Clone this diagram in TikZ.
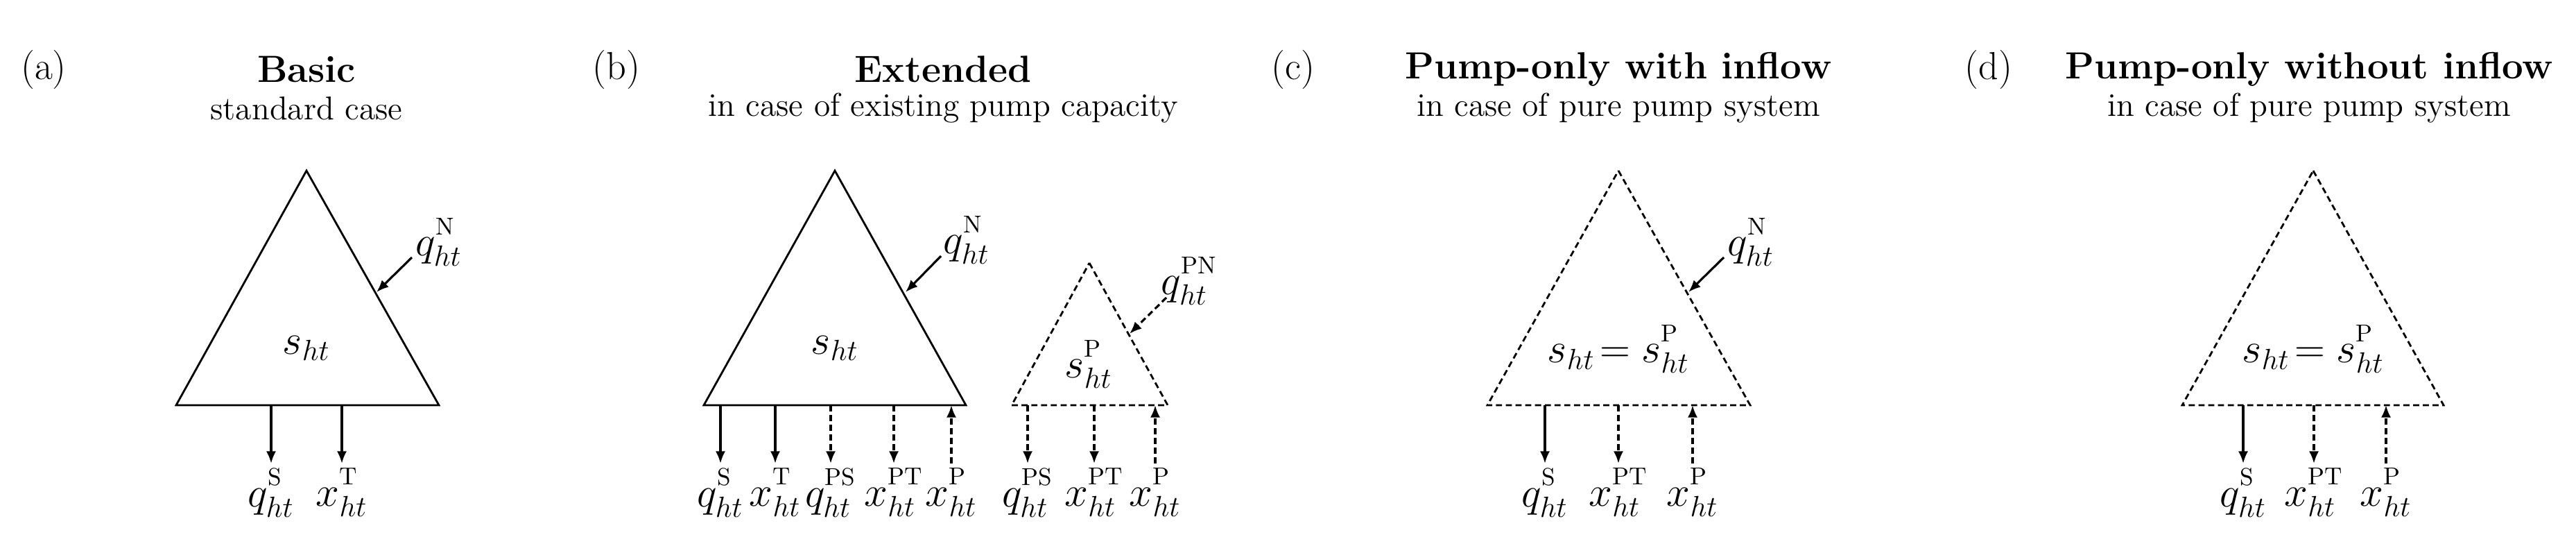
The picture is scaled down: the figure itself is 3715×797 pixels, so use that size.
\documentclass[tikz,border=0pt]{standalone}
\usetikzlibrary{arrows.meta}
\newcommand{\sps}[1]{\raisebox{2.5pt}{\fontsize{10}{10}\selectfont #1}}
\begin{document}
\begin{tikzpicture}[x=0.01cm,y=-0.01cm,
  tri/.style={line width=0.8pt,line join=miter},
  dtri/.style={tri,dash pattern=on 2.5pt off 1.5pt},
  fl/.style={line width=0.9pt,-{Latex[length=5pt,width=4pt]}},
  dfl/.style={fl,dash pattern=on 2.5pt off 1.5pt},
  lbl/.style={anchor=north,inner sep=0pt,font=\fontsize{17.5}{17.5}\selectfont},
  mid/.style={inner sep=0pt,font=\fontsize{17.5}{17.5}\selectfont},
  pl/.style={font=\fontsize{16}{16}\selectfont},
  ttl/.style={font=\fontsize{15.5}{15.5}\selectfont\bfseries},
  sub/.style={font=\fontsize{13.5}{13.5}\selectfont}]
\useasboundingbox (0,0) rectangle (3715,797);
% ---------- (a)
\node[pl] (pa) at (63,100) {(a)};
\node[ttl] (ta) at (442,100) {Basic};
\node[sub] (sa) at (442,156) {standard case};
\draw[tri] (442,246) coordinate (aT) -- (633,584) coordinate (aR) -- (254,584) coordinate (aL) -- cycle;
\node[mid] (aS) at (442,502) {$s_{ht}$};
\node[mid] (aN) at (633,349) {$q_{ht}^{\sps{N}}$};
\coordinate (aNs) at (594,371); \coordinate (aNe) at (543,421);
\draw[fl] (aNs) -- (aNe);
\coordinate (a1) at (391,584); \coordinate (a2) at (493,584);
\node[lbl] (aq) at (391,674) {$q_{ht}^{\sps{S}}$};
\node[lbl] (ax) at (493,674) {$x_{ht}^{\sps{T}}$};
\draw[fl] (a1) -- (a1|-0,668);
\draw[fl] (a2) -- (a2|-0,668);
% ---------- (b)
\node[pl] (pb) at (889,100) {(b)};
\node[ttl] (tb) at (1360,100) {Extended};
\node[sub] (sb) at (1360,156) {in case of existing pump capacity};
\draw[tri] (1204,246) coordinate (bT) -- (1393,584) coordinate (bR) -- (1015,584) coordinate (bL) -- cycle;
\node[mid] (bS) at (1204,502) {$s_{ht}$};
\node[mid] (bN) at (1394,346) {$q_{ht}^{\sps{N}}$};
\coordinate (bNs) at (1357,369); \coordinate (bNe) at (1306,421);
\draw[fl] (bNs) -- (bNe);
\foreach \x/\n in {1039/b1,1118/b2,1198/b3,1289/b4,1372/b5}{\coordinate (\n) at (\x,584); \coordinate (\n e) at (\x,668);}
\draw[fl] (b1) -- (b1e);
\draw[fl] (b2) -- (b2e);
\draw[dfl] (b3) -- (b3e);
\draw[dfl] (b4) -- (b4e);
\draw[dfl] (b5e) -- (b5);
\node[lbl] (bl1) at (1039,674) {$q_{ht}^{\sps{S}}$};
\node[lbl] (bl2) at (1118,674) {$x_{ht}^{\sps{T}}$};
\node[lbl] (bl3) at (1198,674) {$q_{ht}^{\sps{PS}}$};
\node[lbl] (bl4) at (1289,674) {$x_{ht}^{\sps{PT}}$};
\node[lbl] (bl5) at (1372,674) {$x_{ht}^{\sps{P}}$};
% small pump triangle
\draw[dtri] (1571,379) coordinate (pT) -- (1684,584) coordinate (pR) -- (1459,584) coordinate (pL) -- cycle;
\node[mid] (pS) at (1570,525) {$s_{ht}^{\sps{P}}$};
\node[mid] (pN) at (1715,405) {$q_{ht}^{\sps{PN}}$};
\coordinate (pNs) at (1682,429); \coordinate (pNe) at (1629,481);
\draw[dfl] (pNs) -- (pNe);
\foreach \x/\n in {1482/p1,1578/p2,1666/p3}{\coordinate (\n) at (\x,584); \coordinate (\n e) at (\x,668);}
\draw[dfl] (p1) -- (p1e);
\draw[dfl] (p2) -- (p2e);
\draw[dfl] (p3e) -- (p3);
\node[lbl] (pl1) at (1482,674) {$q_{ht}^{\sps{PS}}$};
\node[lbl] (pl2) at (1578,674) {$x_{ht}^{\sps{PT}}$};
\node[lbl] (pl3) at (1666,674) {$x_{ht}^{\sps{P}}$};
% ---------- (c)
\node[pl] (pc) at (1865,100) {(c)};
\node[ttl] (tc) at (2334,100) {Pump-only with inflow};
\node[sub] (sc) at (2334,156) {in case of pure pump system};
\draw[dtri] (2334,246) coordinate (cT) -- (2524,584) coordinate (cR) -- (2145,584) coordinate (cL) -- cycle;
\node[mid] (cS) at (2334,503) {$s_{ht}\!=s_{ht}^{\sps{P}}$};
\node[mid] (cN) at (2525,349) {$q_{ht}^{\sps{N}}$};
\coordinate (cNs) at (2486,371); \coordinate (cNe) at (2435,421);
\draw[fl] (cNs) -- (cNe);
\foreach \x/\n in {2228/c1,2334/c2,2441/c3}{\coordinate (\n) at (\x,584); \coordinate (\n e) at (\x,668);}
\draw[fl] (c1) -- (c1e);
\draw[dfl] (c2) -- (c2e);
\draw[dfl] (c3e) -- (c3);
\node[lbl] (cl1) at (2228,674) {$q_{ht}^{\sps{S}}$};
\node[lbl] (cl2) at (2334,674) {$x_{ht}^{\sps{PT}}$};
\node[lbl] (cl3) at (2441,674) {$x_{ht}^{\sps{P}}$};
% ---------- (d)
\node[pl] (pd) at (2868,100) {(d)};
\node[ttl] (td) at (3330,100) {Pump-only without inflow};
\node[sub] (sd) at (3330,156) {in case of pure pump system};
\draw[dtri] (3336,246) coordinate (dT) -- (3524,584) coordinate (dR) -- (3147,584) coordinate (dL) -- cycle;
\node[mid] (dS) at (3336,503) {$s_{ht}\!=s_{ht}^{\sps{P}}$};
\foreach \x/\n in {3235/d1,3337/d2,3441/d3}{\coordinate (\n) at (\x,584); \coordinate (\n e) at (\x,668);}
\draw[fl] (d1) -- (d1e);
\draw[dfl] (d2) -- (d2e);
\draw[dfl] (d3e) -- (d3);
\node[lbl] (dl1) at (3235,674) {$q_{ht}^{\sps{S}}$};
\node[lbl] (dl2) at (3337,674) {$x_{ht}^{\sps{PT}}$};
\node[lbl] (dl3) at (3441,674) {$x_{ht}^{\sps{P}}$};
\end{tikzpicture}
\end{document}
